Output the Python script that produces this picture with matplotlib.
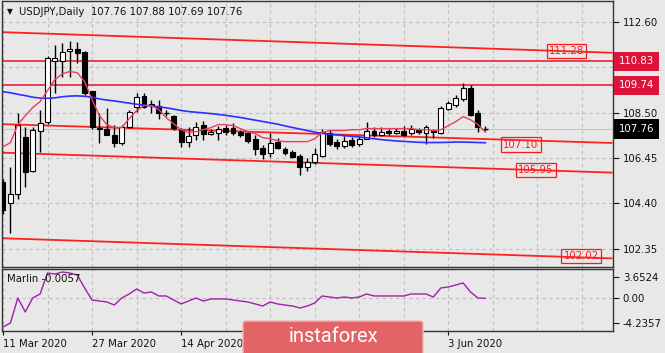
import matplotlib
matplotlib.use("Agg")
import matplotlib.pyplot as plt
from matplotlib.patches import Rectangle, FancyBboxPatch
import numpy as np

# USDJPY daily candles, 11 Mar 2020 .. 10 Jun 2020
opens = [105.38, 104.43, 104.83, 107.41, 105.88, 107.69, 108.10, 110.85, 110.85, 111.30,
         111.40, 111.26, 109.50, 107.82, 107.78, 107.50, 107.14, 107.87, 108.77, 109.27,
         108.90, 108.82, 108.50, 108.36, 107.73, 107.19, 107.50, 107.96, 107.55, 107.60,
         107.82, 107.82, 107.64, 107.60, 107.32, 106.92, 106.69, 107.19, 106.87, 106.74,
         106.55, 106.06, 106.28, 106.55, 107.60, 107.19, 107.01, 107.28, 107.10, 107.32,
         107.69, 107.50, 107.66, 107.60, 107.69, 107.60, 107.73, 107.60, 107.69, 107.60,
         108.68, 108.86, 109.13, 109.63, 108.50, 107.76]
highs = [105.50, 106.06, 108.50, 107.87, 107.87, 108.64, 111.05, 111.58, 111.67, 111.76,
         111.70, 111.30, 109.50, 108.50, 108.73, 107.96, 107.96, 108.64, 109.40, 109.40,
         109.09, 109.09, 108.60, 108.40, 107.82, 107.87, 108.10, 108.14, 107.75, 107.91,
         107.96, 108.05, 107.73, 107.69, 107.50, 107.05, 107.60, 107.35, 106.96, 106.80,
         106.62, 106.45, 106.90, 107.75, 107.70, 107.30, 107.45, 107.40, 107.45, 108.10,
         107.85, 107.87, 107.75, 107.82, 107.90, 107.95, 107.80, 107.96, 107.75, 108.80,
         109.05, 109.30, 109.86, 109.77, 108.60, 107.88]
lows = [103.90, 103.07, 104.60, 105.15, 105.80, 106.74, 108.00, 109.40, 110.13, 110.13,
        110.76, 109.30, 107.78, 107.14, 107.50, 106.96, 107.05, 107.80, 108.55, 108.70,
        108.50, 108.23, 108.36, 107.73, 106.96, 106.96, 107.28, 107.28, 107.50, 107.28,
        107.50, 107.50, 107.41, 107.14, 106.60, 106.42, 106.50, 106.85, 106.60, 106.45,
        105.70, 105.85, 106.20, 106.50, 107.00, 106.85, 106.90, 106.95, 107.00, 107.30,
        107.40, 107.45, 107.50, 107.55, 107.45, 107.50, 107.55, 107.10, 107.35, 107.55,
        108.60, 108.77, 109.05, 108.35, 107.64, 107.69]
closes = [104.11, 104.83, 107.96, 105.83, 107.73, 108.05, 110.99, 110.95, 111.26, 111.40,
          111.20, 109.40, 107.87, 107.75, 107.50, 107.14, 107.87, 108.55, 109.22, 108.77,
          108.85, 108.50, 108.49, 107.82, 107.19, 107.46, 107.87, 107.55, 107.62, 107.78,
          107.64, 107.60, 107.50, 107.23, 106.87, 106.64, 107.14, 106.92, 106.69, 106.51,
          106.06, 106.28, 106.64, 107.64, 107.10, 107.01, 107.23, 107.05, 107.32, 107.69,
          107.50, 107.64, 107.60, 107.69, 107.50, 107.78, 107.64, 107.87, 107.64, 108.73,
          108.95, 109.18, 109.63, 108.41, 107.87, 107.76]

fast_ma = [106.96, 107.14, 107.96, 108.36, 108.73, 109.00, 109.50, 110.00, 110.26, 110.36,
           110.31, 109.90, 109.09, 108.36, 107.96, 107.82, 107.82, 108.23, 108.59, 108.82,
           108.82, 108.64, 108.27, 108.00, 107.73, 107.60, 107.64, 107.73, 107.82, 107.96,
           107.96, 107.91, 107.78, 107.64, 107.55, 107.37, 107.32, 107.23, 107.19, 107.19,
           107.19, 107.19, 107.32, 107.60, 107.69, 107.69, 107.69, 107.73, 107.73, 107.78,
           107.78, 107.78, 107.78, 107.78, 107.78, 107.78, 107.73, 107.73, 107.69, 107.73,
           107.91, 108.09, 108.32, 108.18, 107.96, 107.62]
slow_ma = [109.45, 109.40, 109.33, 109.27, 109.20, 109.16, 109.15, 109.17, 109.22, 109.25,
           109.26, 109.24, 109.20, 109.12, 109.07, 109.03, 108.98, 108.93, 108.88, 108.84,
           108.80, 108.76, 108.72, 108.66, 108.60, 108.55, 108.52, 108.49, 108.46, 108.42,
           108.38, 108.33, 108.28, 108.22, 108.16, 108.10, 108.04, 107.98, 107.90, 107.83,
           107.76, 107.69, 107.62, 107.56, 107.52, 107.49, 107.46, 107.43, 107.40, 107.36,
           107.32, 107.28, 107.25, 107.22, 107.20, 107.18, 107.16, 107.15, 107.15, 107.15,
           107.16, 107.17, 107.17, 107.16, 107.15, 107.14]
marlin = [-4.95, -4.26, 0.05, -2.36, 0.05, 0.74, 4.36, 4.19, 4.53, 4.36,
          4.02, 1.78, -0.29, -0.47, -0.64, -1.16, 0.05, 0.74, 1.60, 0.91,
          1.09, 0.40, 0.40, -0.29, -0.98, -0.47, 0.05, -0.47, -0.12, -0.12,
          -0.12, -0.29, -0.47, -0.64, -0.98, -1.33, -0.64, -0.98, -1.16, -1.33,
          -1.67, -1.33, -0.81, 0.40, 0.22, 0.05, 0.22, 0.05, 0.22, 0.74,
          0.40, 0.40, 0.40, 0.40, 0.40, 0.74, 0.74, 0.74, 0.22, 1.78,
          1.95, 2.29, 2.64, 1.09, 0.05, -0.0057]

tick_pos = [0, 12, 24, 36, 48, 60]
# 30 Apr and 18 May sit under the watermark, so they are not shown
tick_labels = ['11 Mar 2020', '27 Mar 2020', '14 Apr 2020', '', '', '3 Jun 2020']
price_ticks = [112.60, 110.55, 108.50, 106.45, 104.40, 102.35]
marlin_ticks = [3.6524, 0.0, -4.2357]
marlin_tick_labels = ['3.6524', '0.00', '-4.2357']

# sloping lines: value at bar 0 and at bar 82
channel_lines = [(112.14, 111.21), (107.98, 107.13), (106.69, 105.79), (102.82, 101.91)]
level_lines = [110.83, 109.74]
line_labels = ['111.28', '107.10', '105.95', '102.02']
last_price = 107.76

BG = '#E8E8E8'
GRID = '#BEBEBE'
W, H = 665, 353

fig = plt.figure(figsize=(W / 100, H / 100), dpi=100, facecolor=BG)
ax = fig.add_axes([2 / W, (H - 267) / H, 611 / W, 266 / H], facecolor=BG)
ax2 = fig.add_axes([2 / W, (H - 331) / H, 611 / W, 62 / H], facecolor=BG)

n = len(closes)
x = np.arange(n)
xmin, xmax = -0.135, 82.2
grid_x = np.arange(0, 83, 6)

for a in (ax, ax2):
    a.set_xlim(xmin, xmax)
    for s in a.spines.values():
        s.set_color('#333333')
        s.set_linewidth(1)
    for gx in grid_x:
        a.axvline(gx, color=GRID, lw=0.8, ls=(0, (3, 3)), zorder=0)
    a.yaxis.tick_right()
    a.tick_params(axis='y', direction='out', length=4, width=0.8, pad=3,
                  labelsize=7.3, colors='#111111')

# main panel
ax.set_ylim(101.52, 113.55)
ax.set_yticks(price_ticks)
ax.set_yticklabels([f'{p:.2f}' for p in price_ticks])
ax.set_xticks([])
for p in price_ticks:
    ax.axhline(p, color=GRID, lw=0.8, ls=(0, (3, 3)), zorder=0)
ax.axhline(last_price, color='#C4C4C4', lw=0.8, zorder=1)

# channel / level lines
for v0, v1 in channel_lines:
    ax.plot([0, 82], [v0, v1], color='#FF2020', lw=1.3, zorder=2)
    ax.plot([xmin, 0], [v0 - (v1 - v0) / 82 * 0.135, v0], color='#FF2020', lw=1.3, zorder=2)
for lv in level_lines:
    ax.axhline(lv, color='#E8304A', lw=1.3, zorder=2)

# candles
bw = 0.66
for i in x:
    o, h, l, c = opens[i], highs[i], lows[i], closes[i]
    ax.vlines(i, l, h, color='black', lw=1, zorder=3)
    lo, hi = min(o, c), max(o, c)
    if hi - lo < 0.03:
        ax.hlines(o, i - bw / 2, i + bw / 2, color='black', lw=1, zorder=4)
        continue
    face = 'white' if c > o else 'black'
    ax.add_patch(Rectangle((i - bw / 2, lo), bw, hi - lo, facecolor=face,
                           edgecolor='black', lw=0.8, zorder=4))

ax.plot(x, slow_ma, color='#2E2EFF', lw=1.2, zorder=5)
ax.plot(x, fast_ma, color='#E8405C', lw=1.0, zorder=5)

# line value tags on chart
label_x = [75.9, 69.8, 71.8, 77.9]
label_y = [111.31, 107.06, 105.91, 102.02]
for lx, ly, t in zip(label_x, label_y, line_labels):
    ax.text(lx, ly, t, color='#FF1A1A', fontsize=7.3, ha='center', va='center', zorder=6,
            bbox=dict(boxstyle='square,pad=0.2', facecolor='none', edgecolor='#FF1A1A', lw=0.9))

# right-axis price tags
ytr = ax.get_yaxis_transform()
for lv in level_lines:
    ax.text(1.0097, lv, f'{lv:.2f}', transform=ytr, color='white', fontsize=7.3,
            ha='left', va='center', zorder=10, clip_on=False,
            bbox=dict(boxstyle='square,pad=0.45', facecolor='#DC143C', edgecolor='none'))
ax.text(1.0097, last_price, f'{last_price:.2f}', transform=ytr, color='white', fontsize=7.3,
        ha='left', va='center', zorder=10, clip_on=False,
        bbox=dict(boxstyle='square,pad=0.45', facecolor='black', edgecolor='none'))

# header
fig.text(7 / W, 1 - 12 / H, '\u25BC', fontsize=5.5, color='#111111', va='center')
fig.text(19 / W, 1 - 12 / H,
         f'USDJPY,Daily  {opens[-1]:.2f} {highs[-1]:.2f} {lows[-1]:.2f} {closes[-1]:.2f}',
         fontsize=7.3, color='#111111', va='center')

# Marlin panel
ax2.set_ylim(-5.64, 5.05)
ax2.set_yticks(marlin_ticks)
ax2.set_yticklabels(marlin_tick_labels)
ax2.axhline(0, color=GRID, lw=0.8, ls=(0, (3, 3)), zorder=0)
ax2.plot(x, marlin, color='#A020A8', lw=1.0, zorder=3)
ax2.text(5 / 611, 0.84, f'Marlin {marlin[-1]:.4f}', transform=ax2.transAxes,
         fontsize=7.3, color='#111111', va='center')
ax2.set_xticks(tick_pos)
ax2.set_xticklabels(tick_labels, ha='left')
ax2.tick_params(axis='x', direction='out', length=3, width=0.8, pad=3,
                labelsize=7.3, colors='#111111')

# watermark
logo = FancyBboxPatch((243 / W, -0.02), 180 / W, 32 / H + 0.02,
                      boxstyle='round,pad=0,rounding_size=0.006',
                      transform=fig.transFigure, facecolor='#E36466',
                      edgecolor='#F2B5B5', lw=1, zorder=20)
fig.patches.append(logo)
fig.text(333 / W, 1 - 337 / H, 'instaforex', fontsize=14.5, color='white',
         family='Roboto', ha='center', va='center', zorder=21)

fig.savefig('out.png', dpi=100, facecolor=BG)
